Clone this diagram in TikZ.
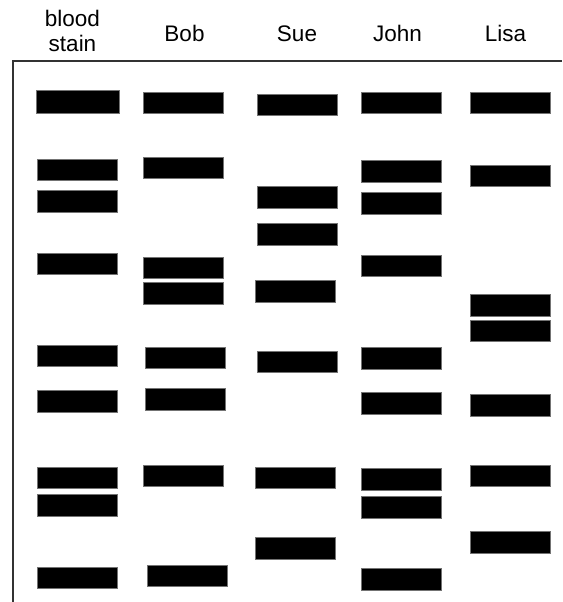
\documentclass[tikz,border=0pt]{standalone}
\usepackage{fontspec}
\setmainfont{Liberation Sans}
\usetikzlibrary{positioning}
\tikzset{
  gel/.style={x=1pt,y=-1pt,
    lane/.style={font=\fontsize{22.5}{25}\selectfont,align=center,inner sep=0pt},
    band/.style={fill=black,draw=black!55,line width=0.5pt,minimum width=80pt,
      minimum height=21.5pt,inner sep=0pt}},
}

\begin{document}
\begin{tikzpicture}[gel]
  \useasboundingbox (0,0) rectangle (562,602);
  % lane labels
  \node[lane] (blood) at (72.5,31) {blood\\stain};
  \node[lane,anchor=base] (bob)  at (184.5,42) {Bob};
  \node[lane,anchor=base] (sue)  at (297,42) {Sue};
  \node[lane,anchor=base] (john) at (397.5,42) {John};
  \node[lane,anchor=base] (lisa) at (505.5,42) {Lisa};
  % gel frame
  \coordinate (tl) at (13,61);
  \draw[line width=1.5pt,black!80] (562,61) -- (tl) -- (13,602);
  % bands, lane by lane
  \node[band,minimum width=83pt,minimum height=23pt] (bs1) at (77.5,101.5) {};
  \foreach \y [count=\i from 2] in {169.5,201,263.5,355.5,401,477.5,505,577.5}
    \node[band] (bs\i) at (77,\y) {};
  \foreach \x/\y [count=\i] in {183/102.5,183/167.5,183/267.5,183/293,185/357.5,
      185/399,183/475.5,187/575.5}
    \node[band] (bob\i) at (\x,\y) {};
  \foreach \x/\y [count=\i] in {297/104.5,297/197,297/234,295/291,297/361.5,
      295/477.5,295/548}
    \node[band] (sue\i) at (\x,\y) {};
  \foreach \y [count=\i] in {102.5,171,203,265.5,358,403,479,507,579}
    \node[band] (john\i) at (401,\y) {};
  \foreach \y [count=\i] in {102.5,175.5,305,330.5,405,475.5,542}
    \node[band] (lisa\i) at (510,\y) {};
\end{tikzpicture}
\end{document}
